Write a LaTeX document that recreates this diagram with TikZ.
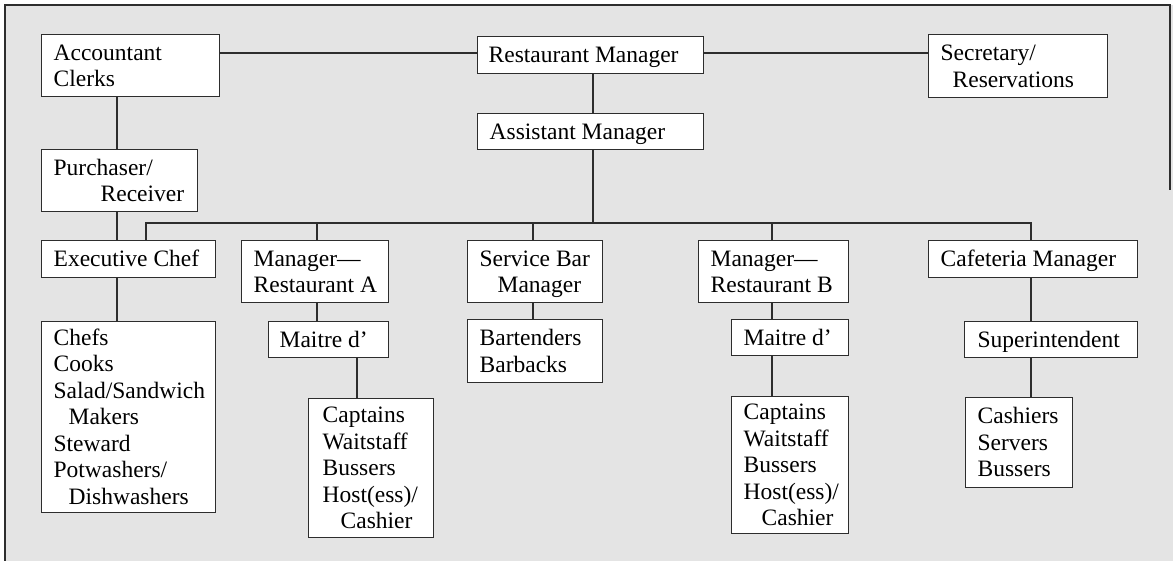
\documentclass[tikz,border=0pt]{standalone}
\usepackage{fontspec}
\setmainfont{Liberation Serif}
\definecolor{ln}{RGB}{45,45,45}
\definecolor{bg}{RGB}{228,228,228}
\tikzset{
  x=1pt, y=-1pt,
  orgbox/.style={draw=ln, line width=1.3pt, fill=white, rectangle, anchor=north west,
    inner xsep=12pt, inner ysep=0pt,
    font=\fontsize{23.5}{26.5}\selectfont},
  link/.style={draw=ln, line width=1.3pt}
}
% \obox{name}{x1}{y1}{x2}{y2}{pad}{text}
\newcommand{\obox}[7]{%
  \pgfmathsetmacro{\bw}{#4-#2}\pgfmathsetmacro{\bh}{#5-#3}\pgfmathsetmacro{\tw}{#4-#2-2*#6}%
  \node[orgbox, inner xsep=#6pt, minimum width=\bw pt, minimum height=\bh pt] (#1) at (#2,#3)
    {\raisebox{-2.5pt}[\height][\depth]{\makebox[\tw pt][l]{\begin{tabular}{@{}l@{}}#7\end{tabular}}}};}
\begin{document}
\begin{tikzpicture}
\useasboundingbox (0,0) rectangle (1173,561);
\fill[white] (0,0) rectangle (1173,561);
\fill[bg] (5,5) rectangle (1173,561);
\draw[ln, line width=1.3pt] (5,561) -- (5,5) -- (1170,5) -- (1170,190);

\obox{AC}{41}{34}{219}{96}{12}{Accountant\\Clerks}
\obox{RM}{477}{36}{703}{73}{11}{Restaurant Manager}
\obox{SR}{928}{34}{1107}{97}{12}{Secretary/\\\hspace*{12pt}Reservations}
\obox{AM}{477}{113}{703}{149}{12}{Assistant Manager}
\obox{PR}{41}{149}{197}{211}{12}{Purchaser/\\\hspace*{47pt}Receiver}
\obox{EC}{41}{240}{215}{277}{12}{Executive Chef}
\obox{MA}{241}{240}{388}{302}{12}{Manager—\\Restaurant A}
\obox{SB}{467}{240}{602}{302}{12}{Service Bar\\\hspace*{18pt}Manager}
\obox{MB}{698}{240}{848}{302}{12}{Manager—\\Restaurant B}
\obox{CM}{928}{240}{1137}{277}{12}{Cafeteria Manager}
\obox{MDA}{268}{321}{388}{357}{11}{Maitre d’}
\obox{MDB}{731}{319}{848}{355}{12}{Maitre d’}
\obox{SI}{964}{321}{1137}{357}{13}{Superintendent}
\obox{CH}{41}{321}{215}{512}{12}{Chefs\\Cooks\\Salad/Sandwich\\\hspace*{15pt}Makers\\Steward\\Potwashers/\\\hspace*{15pt}Dishwashers}
\obox{BB}{467}{319}{602}{382}{12}{Bartenders\\Barbacks}
\obox{CA}{308}{398}{433}{537}{14}{Captains\\Waitstaff\\Bussers\\Host(ess)/\\\hspace*{18pt}Cashier}
\obox{CB}{731}{396}{848}{533}{12}{Captains\\Waitstaff\\Bussers\\Host(ess)/\\\hspace*{18pt}Cashier}
\obox{CS}{965}{397}{1072}{487}{12}{Cashiers\\Servers\\Bussers}

% guide coordinates
\coordinate (hl) at (0,53);
\coordinate (trunk) at (593,223);
\coordinate (busL) at (146,223);
\coordinate (busR) at (1031,223);
\coordinate (kx) at (117,0);
\coordinate (ax) at (317,0);
\coordinate (ax2) at (357,0);
\coordinate (sx) at (533,0);
\coordinate (bx) at (772,0);
\coordinate (cx) at (1031,0);

% top row
\draw[link] (AC.east |- hl) -- (RM.west |- hl);
\draw[link] (RM.east |- hl) -- (SR.west |- hl);
\draw[link] (trunk |- RM.south) -- (trunk |- AM.north);
\draw[link] (trunk |- AM.south) -- (trunk);
% bus
\draw[link] (busL |- EC.north) -- (busL) -- (busR) -- (busR |- CM.north);
\draw[link] (ax |- trunk) -- (ax |- MA.north);
\draw[link] (sx |- trunk) -- (sx |- SB.north);
\draw[link] (bx |- trunk) -- (bx |- MB.north);
% left column
\draw[link] (kx |- AC.south) -- (kx |- PR.north);
\draw[link] (kx |- PR.south) -- (kx |- EC.north);
\draw[link] (kx |- EC.south) -- (kx |- CH.north);
% restaurant A
\draw[link] (ax |- MA.south) -- (ax |- MDA.north);
\draw[link] (ax2 |- MDA.south) -- (ax2 |- CA.north);
% service bar
\draw[link] (sx |- SB.south) -- (sx |- BB.north);
% restaurant B
\draw[link] (bx |- MB.south) -- (bx |- MDB.north);
\draw[link] (bx |- MDB.south) -- (bx |- CB.north);
% cafeteria
\draw[link] (cx |- CM.south) -- (cx |- SI.north);
\draw[link] (cx |- SI.south) -- (cx |- CS.north);
\end{tikzpicture}
\end{document}
